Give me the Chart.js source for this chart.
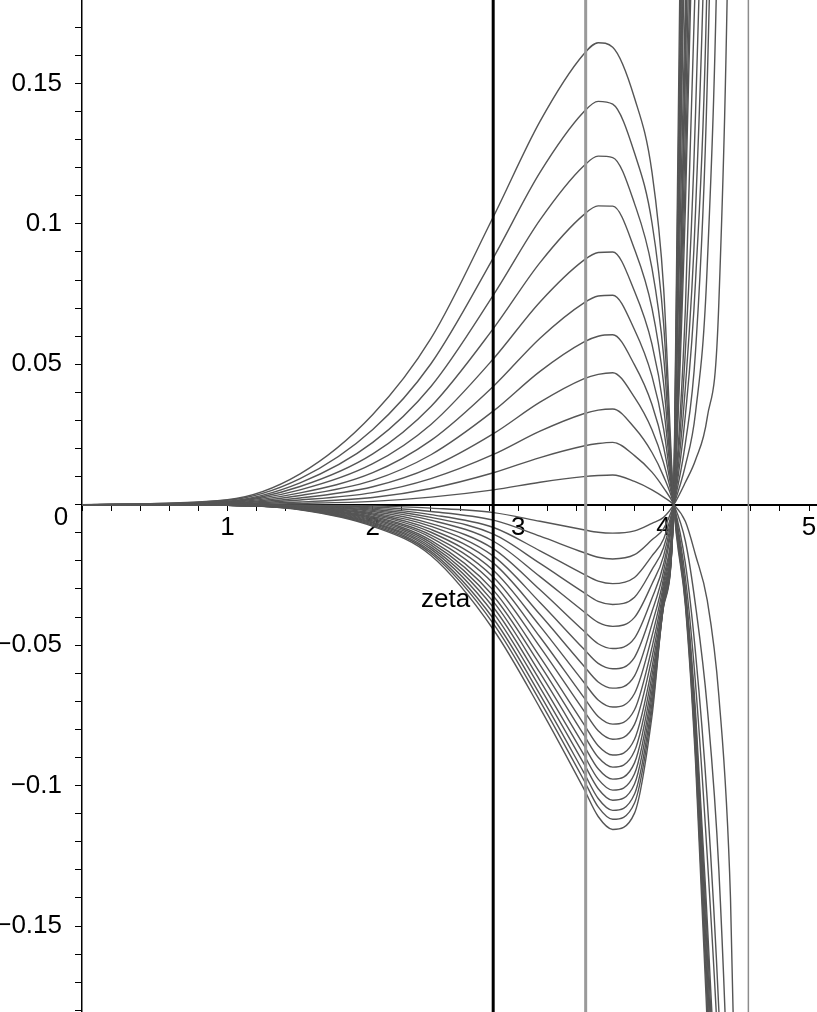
<!DOCTYPE html>
<html>
<head>
<meta charset="utf-8">
<script src="https://cdn.jsdelivr.net/npm/chart.js@4.4.1/dist/chart.umd.min.js"></script>
<style>
  html, body { margin: 0; padding: 0; background: #fff; }
  #wrap { width: 817px; height: 1012px; }
</style>
</head>
<body>
<div id="wrap"><canvas id="zetaChart" width="817" height="1012"></canvas></div>
<script>
// Sample positions shared by every curve
const xs = [0, 1.0, 1.5, 2.0, 2.4, 2.83, 3.15, 3.45, 3.55, 3.65, 3.8, 3.92, 4.0, 4.07, 4.15, 4.22, 4.3, 4.38, 4.46, 4.55];

// Curves with a hump above the axis (biggest first)
const upperCurves = [
  [0, 0.0018, 0.0110, 0.0321, 0.0592, 0.1026, 0.1365, 0.1604, 0.1645, 0.1629, 0.1448, 0.1184, 0.0773, 0, -0.036, -0.092, -0.185, -0.29, -0.40, -0.53],
  [0, 0.0016, 0.0093, 0.0268, 0.0502, 0.0880, 0.1183, 0.1398, 0.1436, 0.1426, 0.1252, 0.1004, 0.0645, 0, -0.035, -0.089, -0.178, -0.28, -0.39, -0.51],
  [0, 0.0013, 0.0078, 0.0222, 0.0421, 0.0747, 0.1014, 0.1206, 0.1241, 0.1236, 0.1072, 0.0842, 0.0531, 0, -0.034, -0.086, -0.172, -0.27, -0.38, -0.49],
  [0, 0.0011, 0.0065, 0.0181, 0.0350, 0.0628, 0.0862, 0.1032, 0.1064, 0.1063, 0.0910, 0.0700, 0.0432, 0, -0.033, -0.083, -0.166, -0.26, -0.36, -0.47],
  [0, 0.0010, 0.0053, 0.0146, 0.0286, 0.0520, 0.0722, 0.0870, 0.0898, 0.0900, 0.0760, 0.0572, 0.0346, 0, -0.032, -0.080, -0.160, -0.25, -0.35, -0.45],
  [0, 0.0008, 0.0042, 0.0114, 0.0229, 0.0422, 0.0593, 0.0718, 0.0743, 0.0746, 0.0623, 0.0458, 0.0270, 0, -0.031, -0.077, -0.154, -0.24, -0.34, -0.43],
  [0, 0.0006, 0.0033, 0.0087, 0.0178, 0.0334, 0.0475, 0.0579, 0.0600, 0.0605, 0.0498, 0.0357, 0.0205, 0, -0.030, -0.074, -0.148, -0.23, -0.32, -0.41],
  [0, 0.0005, 0.0024, 0.0064, 0.0133, 0.0253, 0.0365, 0.0448, 0.0464, 0.0470, 0.0382, 0.0267, 0.0149, 0, -0.026, -0.064, -0.125, -0.20, -0.31, -0.45],
  [0, 0.0003, 0.0017, 0.0043, 0.0093, 0.0179, 0.0262, 0.0324, 0.0337, 0.0341, 0.0274, 0.0186, 0.0101, 0, -0.021, -0.053, -0.105, -0.18, -0.29, -0.45],
  [0, 0.0002, 0.0010, 0.0026, 0.0058, 0.0114, 0.0168, 0.0209, 0.0218, 0.0222, 0.0175, 0.0116, 0.0060, 0, -0.013, -0.036, -0.072, -0.13, -0.24, -0.45],
  [0, 0.0001, 0.0005, 0.0012, 0.0027, 0.0053, 0.0080, 0.0100, 0.0104, 0.0106, 0.0083, 0.0053, 0.0027, 0, -0.006, -0.018, -0.034, -0.068, -0.14, -0.35]
];

// Curves with a dip below the axis (shallowest first)
const lowerCurves = [
  [0, 0, -0.0001, -0.0004, -0.0012, -0.0028, -0.0059, -0.0089, -0.0098, -0.0101, -0.0093, -0.0066, -0.0045, 0, 0.008, 0.016, 0.031, 0.072, 0.26, 0.8],
  [0, 0, -0.0002, -0.0008, -0.0024, -0.0055, -0.0112, -0.0170, -0.0187, -0.0193, -0.0178, -0.0125, -0.0085, 0, 0.014, 0.033, 0.085, 0.23, 0.6, 1.2],
  [0, -0.0001, -0.0003, -0.0012, -0.0035, -0.0081, -0.0164, -0.0247, -0.0272, -0.0281, -0.0259, -0.0182, -0.0122, 0, 0.022, 0.055, 0.15, 0.38, 0.9, 1.5],
  [0, -0.0001, -0.0004, -0.0016, -0.0045, -0.0105, -0.0209, -0.0312, -0.0344, -0.0355, -0.0329, -0.0231, -0.0152, 0, 0.032, 0.08, 0.19, 0.5, 1.0, 1.6],
  [0, -0.0001, -0.0005, -0.0020, -0.0055, -0.0130, -0.0256, -0.0380, -0.0419, -0.0433, -0.0401, -0.0282, -0.0182, 0, 0.042, 0.105, 0.25, 0.6, 1.1, 1.7],
  [0, -0.0001, -0.0006, -0.0024, -0.0067, -0.0157, -0.0303, -0.0449, -0.0495, -0.0512, -0.0475, -0.0333, -0.0211, 0, 0.055, 0.14, 0.32, 0.7, 1.2, 1.8],
  [0, -0.0001, -0.0007, -0.0029, -0.0077, -0.0183, -0.0348, -0.0513, -0.0565, -0.0584, -0.0543, -0.0380, -0.0236, 0, 0.07, 0.19, 0.4, 0.8, 1.3, 1.9],
  [0, -0.0001, -0.0008, -0.0033, -0.0088, -0.0208, -0.0391, -0.0573, -0.0631, -0.0653, -0.0609, -0.0425, -0.0260, 0, 0.106, 0.25, 0.45, 0.85, 1.4, 2.0],
  [0, -0.0001, -0.0009, -0.0037, -0.0098, -0.0234, -0.0432, -0.0631, -0.0695, -0.0720, -0.0672, -0.0468, -0.0280, 0, 0.119, 0.27, 0.5, 0.9, 1.5, 2.1],
  [0, -0.0002, -0.0010, -0.0042, -0.0108, -0.0258, -0.0471, -0.0685, -0.0754, -0.0781, -0.0730, -0.0508, -0.0298, 0, 0.135, 0.305, 0.55, 1.0, 1.6, 2.2],
  [0, -0.0002, -0.0011, -0.0046, -0.0117, -0.0281, -0.0506, -0.0732, -0.0805, -0.0835, -0.0782, -0.0544, -0.0313, 0, 0.154, 0.35, 0.6, 1.05, 1.7, 2.3],
  [0, -0.0002, -0.0012, -0.0050, -0.0127, -0.0305, -0.0542, -0.0780, -0.0858, -0.0891, -0.0835, -0.0580, -0.0327, 0, 0.166, 0.377, 0.65, 1.1, 1.8, 2.4],
  [0, -0.0002, -0.0013, -0.0054, -0.0135, -0.0326, -0.0570, -0.0818, -0.0899, -0.0934, -0.0877, -0.0608, -0.0335, 0, 0.18, 0.41, 0.7, 1.15, 1.9, 2.5],
  [0, -0.0002, -0.0013, -0.0058, -0.0143, -0.0346, -0.0599, -0.0855, -0.0940, -0.0977, -0.0919, -0.0636, -0.0343, 0, 0.214, 0.485, 0.8, 1.2, 2.0, 2.6],
  [0, -0.0002, -0.0014, -0.0062, -0.0151, -0.0366, -0.0626, -0.0889, -0.0977, -0.1016, -0.0958, -0.0662, -0.0349, 0, 0.236, 0.53, 0.85, 1.3, 2.1, 2.7],
  [0, -0.0002, -0.0015, -0.0065, -0.0158, -0.0386, -0.0651, -0.0920, -0.1011, -0.1052, -0.0994, -0.0685, -0.0354, 0, 0.262, 0.59, 0.9, 1.4, 2.2, 2.8],
  [0, -0.0002, -0.0016, -0.0069, -0.0166, -0.0406, -0.0676, -0.0952, -0.1046, -0.1088, -0.1030, -0.0709, -0.0358, 0, 0.293, 0.65, 1.0, 1.5, 2.3, 2.9],
  [0, -0.0002, -0.0017, -0.0073, -0.0173, -0.0424, -0.0699, -0.0979, -0.1076, -0.1120, -0.1062, -0.0730, -0.0359, 0, 0.332, 0.72, 1.1, 1.6, 2.4, 3.0],
  [0, -0.0002, -0.0018, -0.0077, -0.0181, -0.0445, -0.0724, -0.1010, -0.1110, -0.1156, -0.1098, -0.0753, -0.0362, 0, 0.38, 0.8, 1.2, 1.7, 2.5, 3.1]
];

// Vertical marker lines (zeta and two more)
const markerX = [2.828, 3.464, 4.583];
const markerColors = ['#000000', '#9a9a9a', '#8c8c8c'];
const markerWidths = [3, 3, 1.5];

// Axis ranges and labelled ticks
const xMin = 0, xMax = 5.055;
const yMin = -0.1806, yMax = 0.1797;
const xLabelValues = [1, 2, 3, 4, 5];
const yLabelValues = [-0.15, -0.1, -0.05, 0.05, 0.1, 0.15];
const yLabelTexts = ['\u22120.15', '\u22120.1', '\u22120.05', '0.05', '0.1', '0.15'];

const FONT = '"Liberation Sans", Arial, Helvetica, sans-serif';

const datasets = [];

markerX.forEach((mx, i) => {
  datasets.push({
    data: [{ x: mx, y: yMin }, { x: mx, y: yMax }],
    borderColor: markerColors[i],
    borderWidth: markerWidths[i],
    pointRadius: 0
  });
});

upperCurves.concat(lowerCurves).forEach((ys) => {
  datasets.push({
    data: xs.map((x, j) => ({ x: x, y: ys[j] })),
    borderColor: '#555555',
    borderWidth: 1.4,
    pointRadius: 0,
    cubicInterpolationMode: 'monotone'
  });
});

// Extra text: the origin "0" and the zeta label
const textPlugin = {
  id: 'extraText',
  afterDraw(chart) {
    const { ctx, scales: { x, y } } = chart;
    ctx.save();
    ctx.fillStyle = '#000';
    ctx.font = '26px ' + FONT;
    ctx.textAlign = 'center';
    ctx.textBaseline = 'middle';
    ctx.fillText('0', x.getPixelForValue(0) - 21, y.getPixelForValue(0) + 13);
    ctx.textAlign = 'right';
    ctx.textBaseline = 'alphabetic';
    ctx.fillText('zeta', x.getPixelForValue(markerX[0]) - 23, y.getPixelForValue(0) + 102);
    ctx.restore();
  }
};

const chart = new Chart(document.getElementById('zetaChart'), {
  type: 'line',
  data: { datasets: datasets },
  plugins: [textPlugin],
  options: {
    responsive: false,
    animation: false,
    events: [],
    layout: { padding: 0 },
    plugins: { legend: { display: false }, tooltip: { enabled: false } },
    scales: {
      x: {
        type: 'linear',
        min: xMin,
        max: xMax,
        position: { y: 0 },
        border: { display: true, color: '#000', width: 2 },
        grid: { drawOnChartArea: false, drawTicks: true, tickLength: 5, color: '#000', lineWidth: 1 },
        ticks: {
          stepSize: 0.2,
          includeBounds: false,
          autoSkip: false,
          maxRotation: 0,
          padding: 2,
          color: '#000',
          font: { family: FONT, size: 26 },
          callback: (v) => {
            const i = xLabelValues.findIndex(t => Math.abs(t - v) < 1e-9);
            return i >= 0 ? String(xLabelValues[i]) : '';
          }
        },
        afterFit: (s) => { s.paddingLeft = 0; s.paddingRight = 0; }
      },
      y: {
        type: 'linear',
        min: yMin,
        max: yMax,
        position: 'left',
        border: { display: true, color: '#000', width: 1.5 },
        grid: { drawOnChartArea: false, drawTicks: true, tickLength: 7, color: '#000', lineWidth: 1 },
        ticks: {
          stepSize: 0.01,
          includeBounds: false,
          autoSkip: false,
          padding: 13,
          color: '#000',
          font: { family: FONT, size: 26 },
          callback: (v) => {
            const i = yLabelValues.findIndex(t => Math.abs(t - v) < 1e-9);
            return i >= 0 ? yLabelTexts[i] : '';
          }
        },
        afterFit: (s) => { s.width = 82; s.paddingTop = 0; s.paddingBottom = 0; }
      }
    }
  }
});
</script>
</body>
</html>
